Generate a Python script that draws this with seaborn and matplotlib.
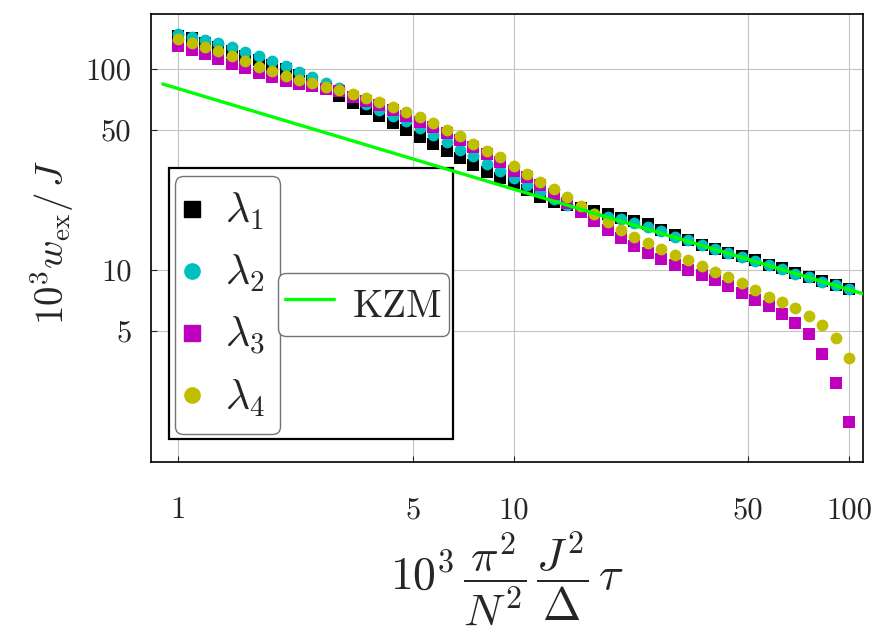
import numpy as np
import pandas as pd
import seaborn as sns
import matplotlib.pyplot as plt
from matplotlib.lines import Line2D
from matplotlib.patches import Rectangle
from matplotlib.ticker import NullLocator

# quench time (log grid, 51 points)
tau = [1.000, 1.096, 1.202, 1.318, 1.445, 1.585, 1.738, 1.905, 2.089, 2.291,
       2.512, 2.754, 3.020, 3.311, 3.631, 3.981, 4.365, 4.786, 5.248, 5.754,
       6.310, 6.918, 7.586, 8.318, 9.120, 10.00, 10.96, 12.02, 13.18, 14.45,
       15.85, 17.38, 19.05, 20.89, 22.91, 25.12, 27.54, 30.20, 33.11, 36.31,
       39.81, 43.65, 47.86, 52.48, 57.54, 63.10, 69.18, 75.86, 83.18, 91.20,
       100.0]

lam1 = [145.9, 142.1, 134.2, 129.1, 122.9, 116.0, 110.9, 104.7, 99.6, 93.4,
        87.5, 80.0, 73.7, 68.0, 63.2, 58.6, 54.1, 49.9, 46.1, 42.5,
        39.2, 36.2, 33.3, 30.8, 28.8, 27.2, 25.0, 23.2, 21.9, 21.1,
        20.3, 19.7, 19.0, 18.2, 17.6, 16.9, 15.9, 15.0, 14.2, 13.4,
        12.8, 12.2, 11.7, 11.2, 10.6, 10.2, 9.66, 9.27, 8.82, 8.45,
        8.05]
lam2 = [148.8, 143.7, 139.4, 134.2, 128.2, 121.0, 116.0, 109.6, 103.5, 97.0,
        91.3, 85.5, 80.4, 73.5, 66.7, 62.5, 58.4, 55.1, 50.7, 46.8,
        43.2, 39.8, 36.9, 33.6, 31.1, 28.6, 26.5, 24.5, 22.7, 21.2,
        19.9, 19.1, 18.4, 17.9, 17.2, 16.3, 15.6, 14.6, 14.1, 13.3,
        12.7, 12.1, 11.6, 11.1, 10.6, 10.1, 9.55, 9.19, 8.75, 8.42,
        8.05]
lam3 = [130.6, 124.8, 119.2, 112.6, 106.3, 100.8, 95.9, 91.3, 87.5, 84.5,
        82.6, 80.0, 77.5, 72.6, 69.6, 66.2, 62.5, 58.6, 54.7, 51.7,
        47.9, 44.4, 41.1, 37.8, 34.6, 31.2, 28.9, 26.5, 23.9, 21.5,
        19.4, 17.5, 15.9, 14.5, 13.2, 12.2, 11.3, 10.6, 10.0, 9.44,
        8.88, 8.29, 7.71, 7.09, 6.62, 6.04, 5.47, 4.79, 3.83, 2.75,
        1.75]
lam4 = [140.5, 134.2, 128.2, 122.4, 116.0, 109.2, 102.7, 97.4, 92.3, 88.5,
        85.2, 81.7, 79.0, 75.4, 72.0, 68.5, 64.5, 60.9, 57.5, 53.7,
        49.7, 46.4, 42.4, 39.2, 36.4, 33.0, 30.0, 27.5, 25.2, 23.0,
        20.8, 19.0, 17.3, 15.9, 14.6, 13.7, 12.8, 11.9, 11.2, 10.5,
        9.81, 9.19, 8.59, 7.95, 7.37, 6.96, 6.45, 5.93, 5.35, 4.61,
        3.66]

# KZM scaling line endpoints
kzm_x = [0.9, 120.0]
kzm_y = [84.3, 7.30]

series = [("lam1", r"$\lambda_1$", "s", "k"),
          ("lam2", r"$\lambda_2$", "o", "c"),
          ("lam3", r"$\lambda_3$", "s", "m"),
          ("lam4", r"$\lambda_4$", "o", "y")]

df = pd.DataFrame({"tau": tau, "lam1": lam1, "lam2": lam2,
                   "lam3": lam3, "lam4": lam4})

sns.set_style("ticks")
plt.rcParams["font.family"] = "serif"
plt.rcParams["font.serif"] = ["cmr10"]
plt.rcParams["mathtext.fontset"] = "cm"
plt.rcParams["axes.unicode_minus"] = False

fig = plt.figure(figsize=(8.75, 6.28), dpi=100)
ax = fig.add_axes([0.1726, 0.2643, 0.8137, 0.7134])

for col, lab, mk, c in series:
    sns.scatterplot(data=df, x="tau", y=col, marker=mk, color=c, s=72,
                    linewidth=0, ax=ax, zorder=3, legend=False)

sns.lineplot(x=kzm_x, y=kzm_y, color="#00ff00", lw=2.4, ax=ax,
             zorder=4, estimator=None, sort=False)

ax.set_xscale("log")
ax.set_yscale("log")
ax.set_xlim(0.83, 110)
ax.set_ylim(1.11, 188)

ax.set_xticks([1, 5, 10, 50, 100])
ax.set_xticklabels(["1", "5", "10", "50", "100"])
ax.set_yticks([5, 10, 50, 100])
ax.set_yticklabels(["5", "10", "50", "100"])
ax.xaxis.set_minor_locator(NullLocator())
ax.yaxis.set_minor_locator(NullLocator())
ax.tick_params(direction="in", length=4, width=0.8, labelsize=22)
ax.tick_params(axis="x", pad=25)
ax.tick_params(axis="y", pad=14)

ax.grid(True, color="#c4c4c4", lw=0.8)
ax.set_axisbelow(True)
for sp in ax.spines.values():
    sp.set_linewidth(1.2)
    sp.set_color("k")

ax.set_xlabel(r"$10^3\,\dfrac{\pi^2}{N^2}\,\dfrac{J^2}{\Delta}\,\tau$",
              fontsize=33, labelpad=4)
ax.set_ylabel(r"$10^3 w_{\rm ex}/\,J$", fontsize=28)
ax.yaxis.set_label_coords(-0.105, 0.49)

# frame around the legends
ax.add_patch(Rectangle((0.0253, 0.051), 0.399, 0.605, transform=ax.transAxes,
                       facecolor="white", edgecolor="k", lw=1.6, zorder=2))

handles = [Line2D([], [], marker=mk, color=c, ls="none", markersize=11,
                  label=lab) for _, lab, mk, c in series]
leg1 = ax.legend(handles=handles, loc="upper left",
                 bbox_to_anchor=(0.0337, 0.638), fontsize=30,
                 handlelength=0.1, handletextpad=0.74, borderpad=0.36,
                 labelspacing=0.5, borderaxespad=0, fancybox=True,
                 framealpha=1, edgecolor="0.45")
leg1.get_frame().set_linewidth(1.0)
ax.add_artist(leg1)

kzm_h = [Line2D([], [], color="#00ff00", lw=2.4, label="KZM")]
leg2 = ax.legend(handles=kzm_h, loc="center left",
                 bbox_to_anchor=(0.178, 0.3516), fontsize=28,
                 handlelength=1.26, handleheight=1.55, handletextpad=0.49,
                 borderpad=0.18, borderaxespad=0, fancybox=True,
                 framealpha=1, edgecolor="0.45")
leg2.get_frame().set_linewidth(1.0)

fig.savefig("out.png", dpi=100)
